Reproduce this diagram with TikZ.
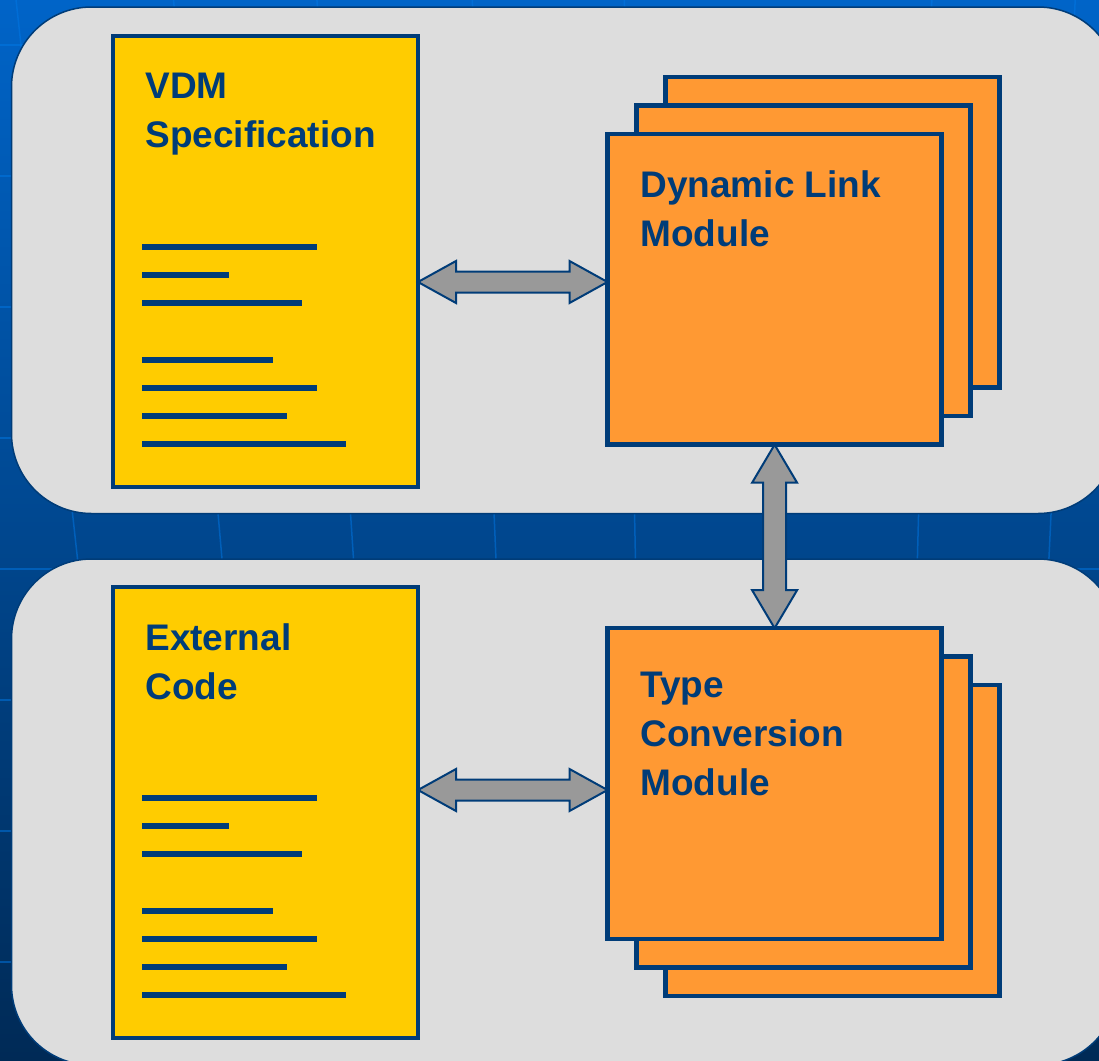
\documentclass[tikz,border=0pt]{standalone}
\usepackage{fontspec}
\setmainfont{Liberation Sans}
\usetikzlibrary{calc}
\definecolor{navy}{RGB}{0,60,120}
\definecolor{docyellow}{RGB}{255,204,0}
\definecolor{modorange}{RGB}{255,153,51}
\definecolor{panelgray}{RGB}{221,221,221}
\definecolor{arrowgray}{RGB}{153,153,153}
\definecolor{bgtop}{RGB}{0,100,200}
\definecolor{bgmid}{RGB}{0,70,140}
\definecolor{bgbot}{RGB}{0,42,86}
\definecolor{gridblue}{RGB}{0,120,230}
\begin{document}
\begin{tikzpicture}[x=0.5pt,y=-0.5pt,
  panel/.style={draw=navy, line width=0.75pt, fill=panelgray, rounded corners=40pt},
  doc/.style={draw=navy, line width=2pt, fill=docyellow, outer sep=0pt, inner sep=0pt,
    minimum width=152.5pt, minimum height=225.75pt},
  module/.style={draw=navy, line width=2.25pt, fill=modorange, outer sep=0pt, inner sep=0pt,
    minimum width=167.1pt, minimum height=155.35pt},
  label/.style={text=navy, font=\fontsize{18.5}{24.5}\selectfont\bfseries, align=left,
    inner sep=0pt, anchor=north west},
  docline/.style={draw=navy, line width=3pt},
  biarrow/.style={draw=navy, line width=1pt, fill=arrowgray, line join=miter},
  gridline/.style={draw=gridblue, opacity=0.5, line width=0.75pt}
]
\useasboundingbox (0,0) rectangle (1099,1061);
\clip (0,0) rectangle (1099,1061);
% background
\shade[top color=bgtop, middle color=bgmid, bottom color=bgbot] (0,0) rectangle (1099,1061);
\foreach \y in {45,176,307,438,569,700,831,962}
  \draw[gridline] (0,\y) -- (1099,\y);
\coordinate (vp) at (758,6746);
\foreach \x in {75,220,352,495,635,918,1050}
  \draw[gridline] ($(vp)!1.1!(\x,536)$) -- ($(vp)!0.8!(\x,536)$);
% panels
\draw[panel] (11.5,7) rectangle (1118,513.5);
\draw[panel] (11.5,559) rectangle (1118,1065);
% documents
\node[doc] (vdm) at (265.5,261.25) {};
\node[doc] (ext) at (265.5,812.25) {};
\foreach \d in {vdm,ext}{
  \begin{scope}[shift={(\d.north west)}]
    \foreach \yy/\ll in {211.5/175,239.5/87,267.5/160,324.5/131,352.5/175,380.5/145,408.5/204}
      \draw[docline] (29,\yy) -- ++(\ll,0);
  \end{scope}
}
\node[label] (vdmtxt) at (145,72.5) {VDM\\Specification};
\node[label] (exttxt) at (145,623.5) {External\\Code};
% module stacks
\node[module] (dlm3) at (832.6,232.35) {};
\node[module] (dlm2) at (803.6,260.85) {};
\node[module] (dlm) at (774.6,289.35) {};
\node[module] (tcm3) at (832.6,840.5) {};
\node[module] (tcm2) at (803.6,812) {};
\node[module] (tcm) at (774.6,783.5) {};
\node[label] (dlmtxt) at (640,170.5) {Dynamic Link\\Module};
\node[label] (tcmtxt) at (640,671.5) {Type\\Conversion\\Module};
% arrows
\coordinate (ha) at (0,282);
\coordinate (hb) at (0,790);
\draw[biarrow] let \p1=(vdm.east |- ha), \p2=(dlm.west |- ha) in
  (\p1) -- (\x1+19pt,\y1+10.5pt) -- (\x1+19pt,\y1+5.25pt) -- (\x2-19pt,\y1+5.25pt)
  -- (\x2-19pt,\y1+10.5pt) -- (\p2) -- (\x2-19pt,\y1-10.5pt) -- (\x2-19pt,\y1-5.25pt)
  -- (\x1+19pt,\y1-5.25pt) -- (\x1+19pt,\y1-10.5pt) -- cycle;
\draw[biarrow] let \p1=(ext.east |- hb), \p2=(tcm.west |- hb) in
  (\p1) -- (\x1+19pt,\y1+10.5pt) -- (\x1+19pt,\y1+5.25pt) -- (\x2-19pt,\y1+5.25pt)
  -- (\x2-19pt,\y1+10.5pt) -- (\p2) -- (\x2-19pt,\y1-10.5pt) -- (\x2-19pt,\y1-5.25pt)
  -- (\x1+19pt,\y1-5.25pt) -- (\x1+19pt,\y1-10.5pt) -- cycle;
\draw[biarrow] let \p1=(dlm.south), \p2=(tcm.north) in
  (\p1) -- (\x1+11.25pt,\y1-19pt) -- (\x1+5.75pt,\y1-19pt) -- (\x1+5.75pt,\y2+19pt)
  -- (\x1+11.25pt,\y2+19pt) -- (\p2) -- (\x1-11.25pt,\y2+19pt) -- (\x1-5.75pt,\y2+19pt)
  -- (\x1-5.75pt,\y1-19pt) -- (\x1-11.25pt,\y1-19pt) -- cycle;
\end{tikzpicture}
\end{document}
